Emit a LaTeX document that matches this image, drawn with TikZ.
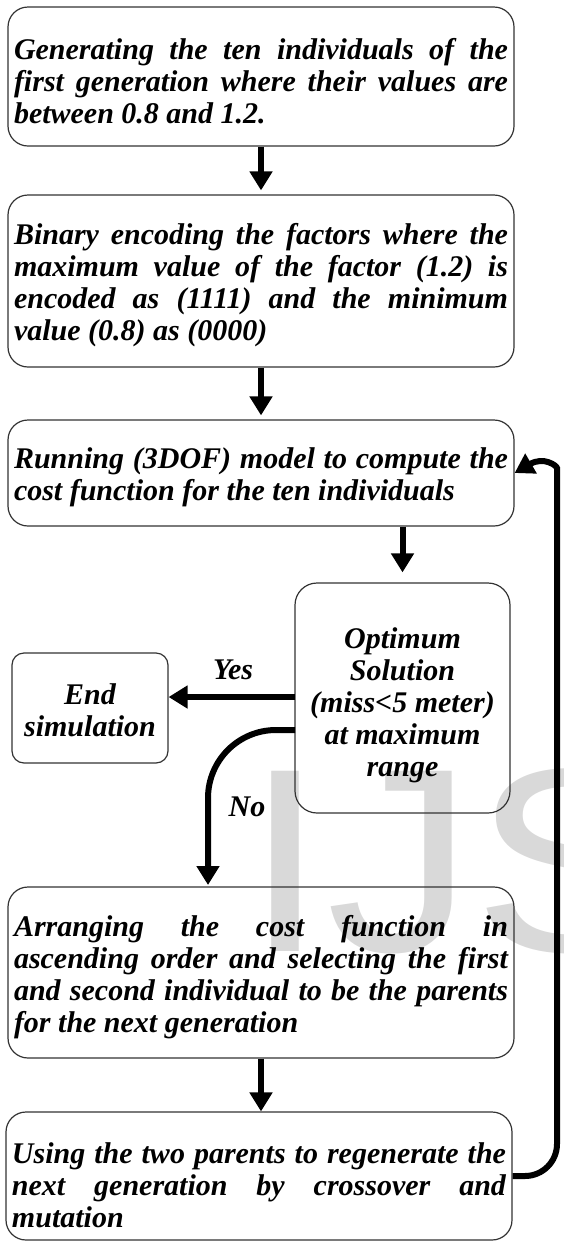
\documentclass[tikz,border=0pt]{standalone}
\usepackage{fontspec}
\setmainfont{Liberation Serif}
\newfontfamily\wmfont{Liberation Sans}
\usetikzlibrary{arrows.meta}

\newcommand\boxtxt{\fontsize{30}{32}\selectfont\bfseries\itshape
  \tolerance=9999 \hyphenpenalty=10000 \emergencystretch=30pt}
\newlength\toplift
\setlength\toplift{30pt}

\tikzset{
  every node/.style={inner sep=0pt},
  proc/.style={draw=black!80, line width=1.2pt, rounded corners=20pt,
    text width=494pt, inner xsep=6pt, align=justify, font=\boxtxt,
    execute at begin node={\leavevmode\rule{0pt}{\toplift}}},
  lift/.style={execute at begin node={\leavevmode\rule{0pt}{#1}}},
  decide/.style={draw=black!80, line width=1.2pt, rounded corners=22pt,
    minimum width=215pt, minimum height=230pt, align=center, font=\boxtxt},
  term/.style={draw=black!80, line width=1.2pt, rounded corners=12pt,
    minimum width=156pt, minimum height=110pt, align=center, font=\boxtxt},
  flow/.style={line width=6pt, -{Triangle[width=22pt,length=19pt]}},
  tag/.style={font=\boxtxt},
}

\begin{document}
\begin{tikzpicture}[x=1pt, y=-1pt]
\useasboundingbox (0,0) rectangle (564,1243);

% light grey lettering behind the chart
\begin{scope}
  \clip (0,0) rectangle (564,1243);
  \node[anchor=base west, xscale=1.126, text=black!15,
        font={\wmfont\fontsize{262}{270}\selectfont}]
    (mark) at (244,951) {IJS};
\end{scope}

% process steps
\node[proc, minimum height=139pt] (gen) at (261,76.5)
  {Generating the ten individuals of the\linebreak
   first generation where their values are\linebreak
   between 0.8 and 1.2.};
\node[proc, minimum height=172pt] (enc) at (261,281)
  {Binary encoding the factors where the\linebreak
   maximum value of the factor (1.2) is\linebreak
   encoded as (1111) and the minimum\linebreak
   value (0.8) as (0000)};
\node[proc, minimum height=106pt] (run) at (261,473)
  {Running (3DOF) model to compute the\linebreak
   cost function for the ten individuals};
\node[decide] (opt) at (402.5,698)
  {\rule{0pt}{36pt}Optimum\\Solution\\(miss<5 meter)\\at maximum\\range};
\node[term] (stop) at (90,708) {\rule{0pt}{26pt}End\\simulation};
\node[proc, minimum height=171pt] (sort) at (261,972.5)
  {Arranging the cost function in\linebreak
   ascending order and selecting the first\linebreak
   and second individual to be the parents\linebreak
   for the next generation};
\node[proc, lift=40pt, minimum height=128pt] (cross) at (259,1176)
  {Using the two parents to regenerate the\linebreak
   next generation by crossover and\linebreak
   mutation};

% connectors
\draw[flow] (gen.south) -- ([yshift=4pt]gen.south |- enc.north);
\draw[flow] (enc.south) -- ([yshift=4pt]enc.south |- run.north);
\draw[flow] (run.south -| opt.north) -- ([yshift=10pt]opt.north);

\coordinate (yesStart) at (295,697);
\draw[flow] (yesStart) -- (yesStart -| stop.east);
\node[tag] (yes) at (233,670) {Yes};

\coordinate (noStart) at (295,730);
\coordinate (noEnd) at (208,885);
\draw[flow, rounded corners=68pt] (noStart) -| (noEnd);
\node[tag] (no) at (247,807) {No};

\draw[flow] (sort.south) -- (sort.south |- cross.north);

% feedback loop to the model run
\coordinate (loopUp) at (557,500);
\draw[flow] (cross.east) [rounded corners=32pt] -| (loopUp)
  [sharp corners] .. controls (557,466) and (544,456) .. (run.east);
\end{tikzpicture}
\end{document}
